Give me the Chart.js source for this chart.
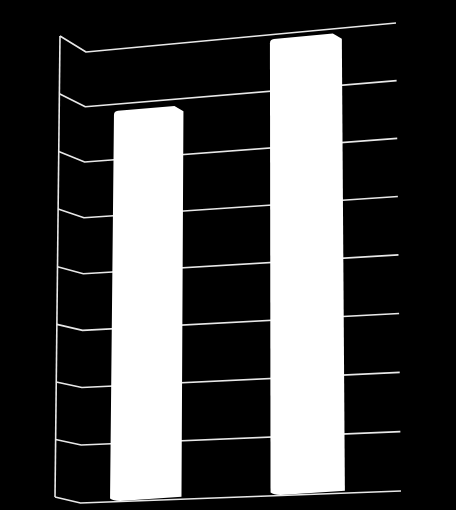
<!DOCTYPE html>
<html>
<head>
<meta charset="utf-8">
<title>Bars</title>
<script src="https://cdn.jsdelivr.net/npm/chart.js@4"></script>
<style>
    body { margin: 0; background: #000; }
    canvas { display: block; }
</style>
</head>
<body>
<canvas id="chart" width="456" height="510"></canvas>
<script>
const categories = ['1', '2'];
const barValues = [6.88, 7.92];
const barBase = 0.04;
const yMax = 8;

// corners of the tilted walls: top left, top right, bottom right, bottom left
const backWall = [[86, 52], [396, 23], [401, 491], [80.5, 503]];
const sideWall = [[60, 36], [86, 52], [80.5, 503], [55, 497]];

function makeProjection(q) {
    const [p0, p1, p2, p3] = q;
    const dx1 = p1[0] - p2[0], dx2 = p3[0] - p2[0], sx = p0[0] - p1[0] + p2[0] - p3[0];
    const dy1 = p1[1] - p2[1], dy2 = p3[1] - p2[1], sy = p0[1] - p1[1] + p2[1] - p3[1];
    const det = dx1 * dy2 - dx2 * dy1;
    const g = (sx * dy2 - dx2 * sy) / det;
    const h = (dx1 * sy - sx * dy1) / det;
    const a = p1[0] - p0[0] + g * p1[0], b = p3[0] - p0[0] + h * p3[0];
    const d = p1[1] - p0[1] + g * p1[1], e = p3[1] - p0[1] + h * p3[1];
    return (u, v) => {
        const w = g * u + h * v + 1;
        return [(a * u + b * v + p0[0]) / w, (d * u + e * v + p0[1]) / w];
    };
}

const backProjection = makeProjection(backWall);
const sideProjection = makeProjection(sideWall);

// right end of the back wall is spaced a bit more evenly than the left
function onBack(u, v) {
    return backProjection(u, v + 0.016 * u * v * (1 - v));
}

// outer edge of the side wall bunches up a little towards the top
function onSide(u, v) {
    return sideProjection(u, v - 0.022 * (1 - u) * v * (1 - v));
}

const tiltedWalls = {
    id: 'tiltedWalls',
    beforeDatasetsDraw(chart) {
        const ctx = chart.ctx;
        const y = chart.scales.y;
        const area = chart.chartArea;
        ctx.save();
        ctx.strokeStyle = '#e8e8e8';
        ctx.lineWidth = 1.6;
        ctx.lineJoin = 'round';
        y.ticks.forEach(t => {
            const v = (y.getPixelForValue(t.value) - area.top) / area.height;
            const a = onSide(0, v), b = onBack(0, v), c = onBack(1, v);
            ctx.beginPath();
            ctx.moveTo(a[0], a[1]);
            ctx.lineTo(b[0], b[1]);
            ctx.lineTo(c[0], c[1]);
            ctx.stroke();
        });
        const top = onSide(0, 0), bottom = onSide(0, 1);
        ctx.beginPath();
        ctx.moveTo(top[0], top[1]);
        ctx.lineTo(bottom[0], bottom[1]);
        ctx.stroke();
        ctx.restore();
    },
    beforeDatasetDraw(chart, args) {
        const ctx = chart.ctx;
        const area = chart.chartArea;
        const warp = (px, py) => onBack(
            (px - area.left) / area.width * 1.014 - 0.044,
            (py - area.top) / area.height
        );
        ctx.save();
        ctx.fillStyle = '#ffffff';
        args.meta.data.forEach(bar => {
            const p = bar.getProps(['x', 'y', 'base', 'width'], true);
            const tl = warp(p.x - p.width / 2, p.y);
            const tr = warp(p.x + p.width / 2, p.y);
            const br = warp(p.x + p.width / 2, p.base);
            const bl = warp(p.x - p.width / 2, p.base);
            const slope = (tr[1] - tl[1]) / (tr[0] - tl[0]);
            ctx.beginPath();
            ctx.moveTo(bl[0], bl[1] - 1);
            ctx.quadraticCurveTo(bl[0] + 3, bl[1] + 1, bl[0] + 10, bl[1] + 1.5);
            ctx.lineTo(br[0], br[1]);
            ctx.lineTo(tr[0], tr[1] + 6);
            // clipped top right corner
            ctx.lineTo(tr[0] - 9, tr[1] - 9 * slope);
            ctx.lineTo(tl[0] + 4, tl[1] + 4 * slope);
            ctx.quadraticCurveTo(tl[0], tl[1], tl[0], tl[1] + 4);
            ctx.closePath();
            ctx.fill();
        });
        ctx.restore();
        return false;
    }
};

new Chart(document.getElementById('chart'), {
    type: 'bar',
    data: {
        labels: categories,
        datasets: [{
            data: barValues,
            base: barBase,
            backgroundColor: '#ffffff',
            barPercentage: 0.45,
            categoryPercentage: 1
        }]
    },
    options: {
        responsive: false,
        animation: false,
        layout: { padding: 0 },
        plugins: { legend: { display: false }, tooltip: { enabled: false } },
        scales: {
            x: { display: false },
            y: { display: false, min: 0, max: yMax, ticks: { stepSize: 1 } }
        }
    },
    plugins: [tiltedWalls]
});
</script>
</body>
</html>
